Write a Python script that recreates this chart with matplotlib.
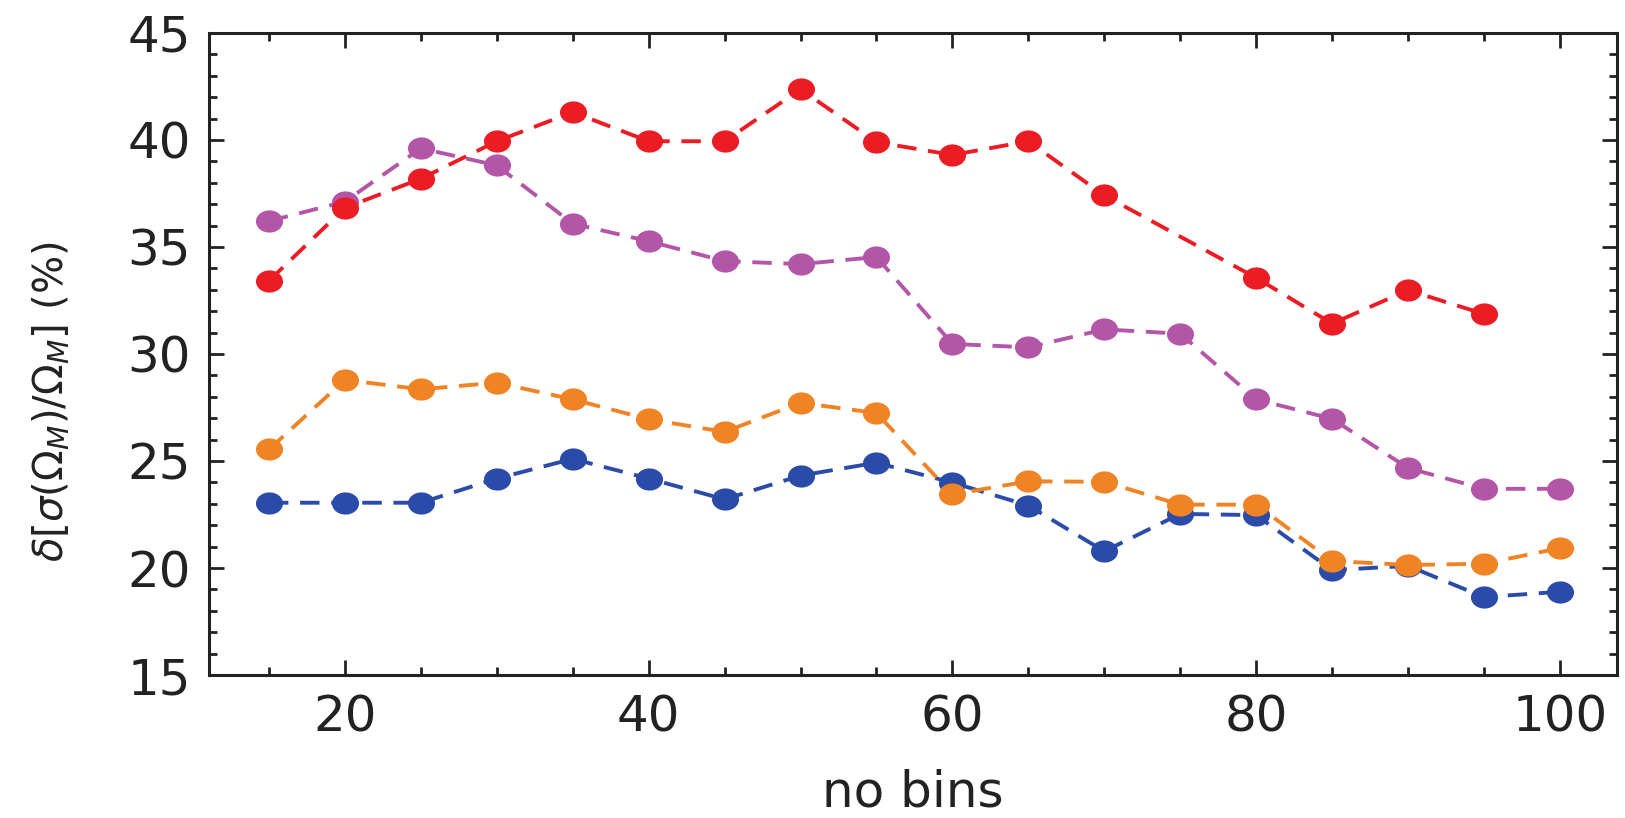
import matplotlib
matplotlib.use("Agg")
import matplotlib.pyplot as plt
from matplotlib.ticker import MultipleLocator
from matplotlib.path import Path
import numpy as np

# ── data ──
bins_full = [15, 20, 25, 30, 35, 40, 45, 50, 55, 60, 65, 70, 75, 80, 85, 90, 95, 100]
blue = [23.05, 23.05, 23.05, 24.18, 25.10, 24.18, 23.21, 24.32, 24.92, 23.99,
        22.92, 20.78, 22.53, 22.47, 19.90, 20.10, 18.64, 18.89]
orange = [25.54, 28.79, 28.35, 28.66, 27.88, 26.95, 26.36, 27.72, 27.24, 23.44,
          24.05, 24.03, 22.96, 22.96, 20.33, 20.14, 20.20, 20.93]
magenta = [36.21, 37.12, 39.61, 38.81, 36.09, 35.27, 34.34, 34.20, 34.53, 30.47,
           30.31, 31.15, 30.95, 27.88, 26.97, 24.67, 23.70, 23.70]
bins_red = [15, 20, 25, 30, 35, 40, 45, 50, 55, 60, 65, 70, 80, 85, 90, 95]
red = [33.42, 36.83, 38.19, 39.94, 41.30, 39.94, 39.94, 42.37, 39.90, 39.30,
       39.94, 37.41, 33.56, 31.42, 32.98, 31.87]

C_BLUE = "#2b4ba9"
C_ORANGE = "#f08324"
C_MAGENTA = "#b456a8"
C_RED = "#ec1c24"
INK = "#222222"

# slightly wide ellipse, the reference markers are stretched horizontally
circ = Path.unit_circle()
ell = Path(circ.vertices * np.array([1.22, 1.0]), circ.codes)

fig = plt.figure(figsize=(16.25, 8.18), dpi=100, facecolor="white")
ax = fig.add_axes([0.1286, 0.1748, 0.8664, 0.7849])

style = dict(linestyle="--", dashes=(5, 3), linewidth=2.8, marker=ell,
             markersize=19.5, markeredgewidth=0)
ax.plot(bins_full, blue, color=C_BLUE, **style)
ax.plot(bins_full, orange, color=C_ORANGE, **style)
ax.plot(bins_full, magenta, color=C_MAGENTA, **style)
ax.plot(bins_red, red, color=C_RED, **style)

ax.set_xlim(11.05, 103.75)
ax.set_ylim(15, 45)
ax.xaxis.set_major_locator(MultipleLocator(20))
ax.xaxis.set_minor_locator(MultipleLocator(5))
ax.yaxis.set_major_locator(MultipleLocator(5))
ax.yaxis.set_minor_locator(MultipleLocator(1))

ax.tick_params(which="both", direction="in", top=True, right=True,
               color=INK, width=2)
ax.tick_params(which="major", length=11, labelsize=36, labelcolor=INK)
ax.tick_params(which="minor", length=6)
ax.tick_params(axis="x", which="major", pad=13)
ax.tick_params(axis="y", which="major", pad=13)
for sp in ax.spines.values():
    sp.set_linewidth(2.2)
    sp.set_color(INK)

ax.set_xlabel("no bins", fontsize=36, color=INK, labelpad=20)
ax.set_ylabel(r"$\delta[\sigma(\Omega_M)/\Omega_M]$ (%)", fontsize=29,
              color=INK)
ax.yaxis.set_label_coords(-0.097, 0.425)

fig.savefig("out.png", dpi=100, facecolor="white")
